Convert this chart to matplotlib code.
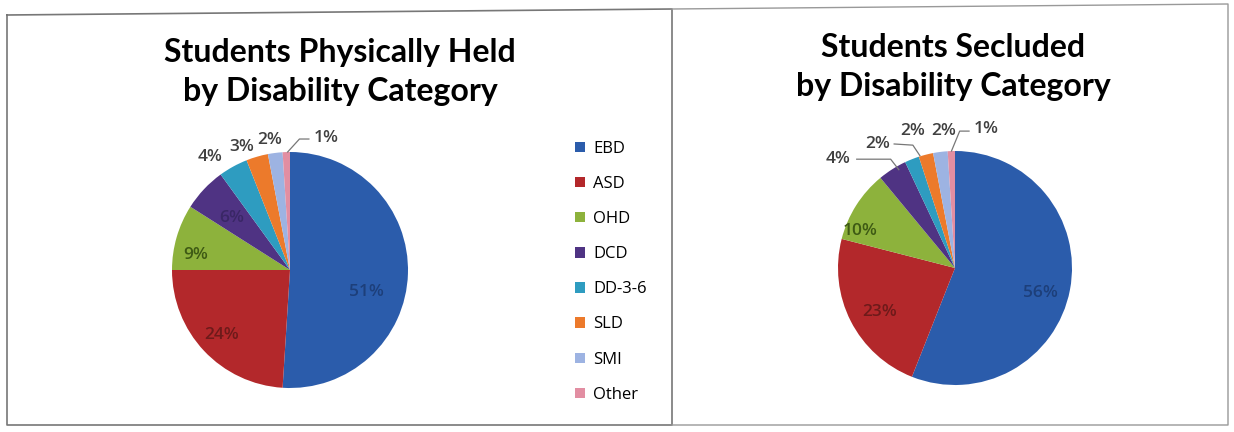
import matplotlib
matplotlib.use("Agg")
import matplotlib.pyplot as plt
from matplotlib.patches import Patch

# data
categories = ["EBD", "ASD", "OHD", "DCD", "DD-3-6", "SLD", "SMI", "Other"]
held_pct = [51, 24, 9, 6, 4, 3, 2, 1]
secluded_pct = [56, 23, 10, 4, 2, 2, 2, 1]
titles = ["Students Physically Held\nby Disability Category",
          "Students Secluded\nby Disability Category"]

colors = ["#2b5cab", "#b3282b", "#8db23c", "#4f3383",
          "#2e9cc0", "#ec7a2b", "#9db3e2", "#e28ea2"]
inside_colors = ["#1d3f7a", "#6e1a1a", "#3e5a14", "#3a2766"]
outside_color = "#404040"

W, H = 1234, 432
fig = plt.figure(figsize=(W / 100, H / 100), dpi=100)
fig.patch.set_facecolor("white")
plt.rcParams["font.family"] = ["Lato", "DejaVu Sans"]

# panel frames
frame = fig.add_axes([0, 0, 1, 1])
frame.set_xlim(0, W)
frame.set_ylim(H, 0)
frame.axis("off")
frame.plot([7, 672, 672, 7, 7], [15, 9, 425, 425, 15], color="#777777", lw=1.2)
frame.plot([672, 1228, 1228, 672], [9, 4, 425, 425], color="#999999", lw=1.0)


def draw_pie(cx, cy, r, values, n_inside, label_pos, leaders):
    ax = fig.add_axes([(cx - r) / W, (H - cy - r) / H, 2 * r / W, 2 * r / H])
    ax.pie(values, colors=colors, startangle=90, counterclock=False,
           radius=1, wedgeprops=dict(edgecolor="none"))
    ax.set_xlim(-1, 1)
    ax.set_ylim(-1, 1)
    ax.axis("off")
    for i, v in enumerate(values):
        x, y = label_pos[i]
        c = inside_colors[i] if i < n_inside else outside_color
        ax.text(x, y, f"{v}%", ha="center", va="center", fontsize=12.5,
                color=c, clip_on=False, fontweight="semibold",
                family=["Open Sans", "DejaVu Sans"])
    for pts in leaders:
        xs, ys = zip(*pts)
        ax.plot(xs, ys, color="#777777", lw=0.9, clip_on=False)
    return ax


held_pos = [(0.65, -0.19), (-0.58, -0.55), (-0.80, 0.13), (-0.49, 0.44),
            (-0.68, 0.96), (-0.41, 1.04), (-0.17, 1.10), (0.31, 1.12)]
held_lead = [[(-0.02, 1.0), (0.08, 1.11), (0.16, 1.11)]]
draw_pie(290, 270, 118, held_pct, 4, held_pos, held_lead)

sec_pos = [(0.73, -0.21), (-0.64, -0.38), (-0.81, 0.32), (-1.0, 0.93),
           (-0.66, 1.06), (-0.36, 1.17), (-0.10, 1.17), (0.27, 1.19)]
sec_lead = [[(-0.84, 0.93), (-0.55, 0.93), (-0.48, 0.84)],
            [(-0.52, 1.06), (-0.36, 1.05), (-0.30, 0.96)],
            [(-0.03, 1.0), (0.04, 1.17), (0.12, 1.17)]]
draw_pie(955, 268, 117, secluded_pct, 3, sec_pos, sec_lead)

fig.text(340 / W, 1 - 72 / H, titles[0], ha="center", va="center",
         fontsize=23, fontweight="bold", linespacing=1.42)
fig.text(953 / W, 1 - 67 / H, titles[1], ha="center", va="center",
         fontsize=23, fontweight="bold", linespacing=1.42)

handles = [Patch(facecolor=c, edgecolor="none") for c in colors]
fig.legend(handles, categories, loc="upper left",
           bbox_to_anchor=(568 / W, 1 - 134 / H), frameon=False,
           handlelength=0.6, handleheight=0.6, borderaxespad=0,
           handletextpad=0.5, labelspacing=1.15,
           prop={"family": ["Open Sans", "DejaVu Sans"], "size": 12})

fig.savefig("out.png", dpi=100, facecolor="white")
